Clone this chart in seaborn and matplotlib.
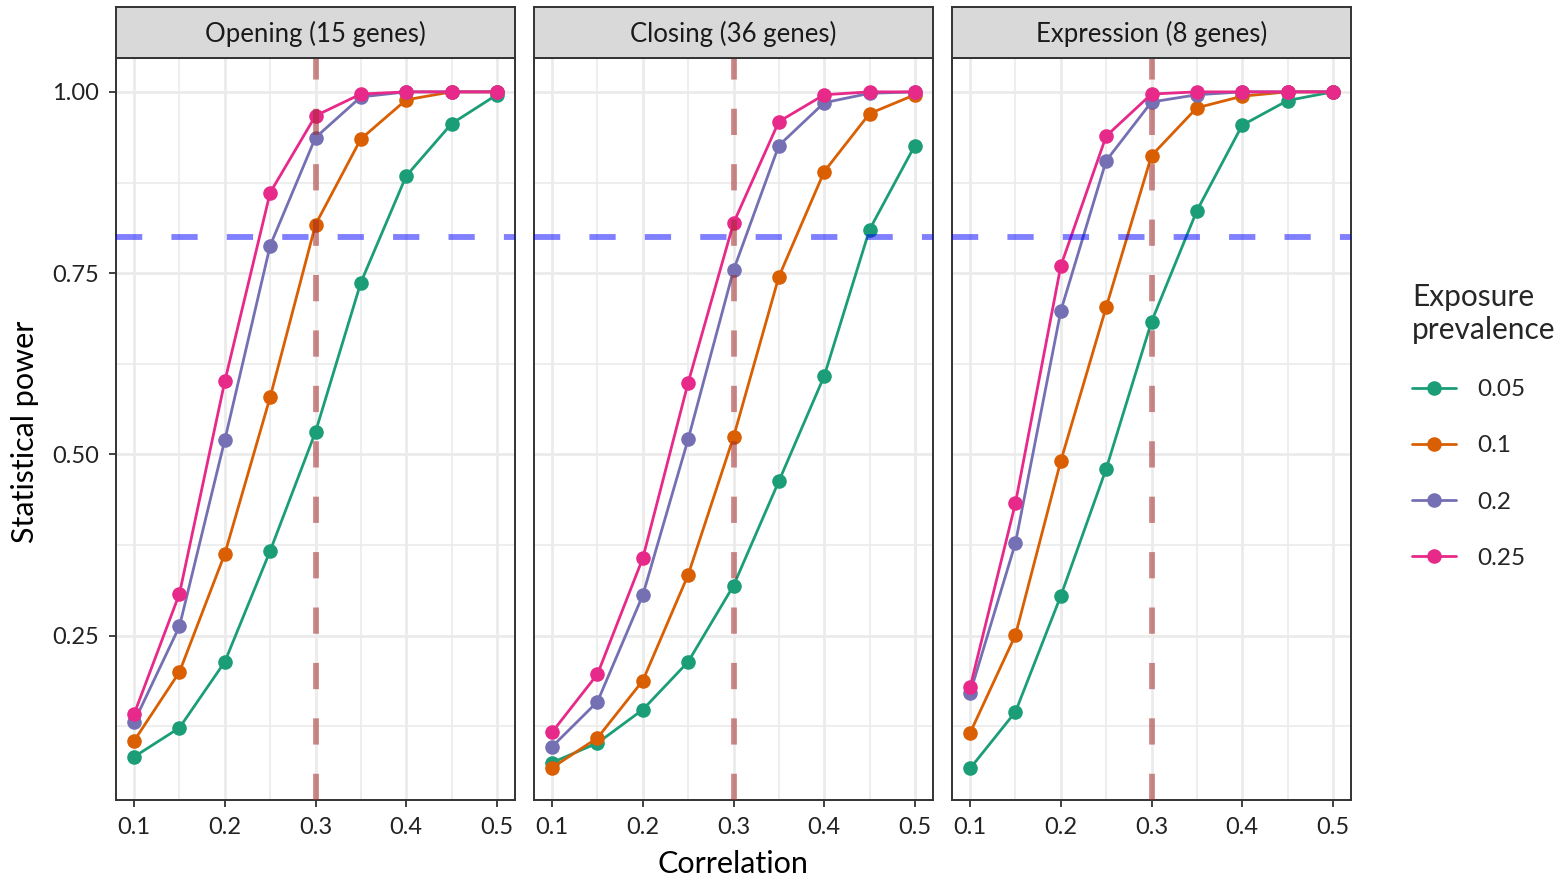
import numpy as np
import pandas as pd
import matplotlib
matplotlib.use("Agg")
import matplotlib.pyplot as plt
import seaborn as sns
from matplotlib.lines import Line2D

# ---------------- data ----------------
correlation = [0.1, 0.15, 0.2, 0.25, 0.3, 0.35, 0.4, 0.45, 0.5]
panels = ["Opening (15 genes)", "Closing (36 genes)", "Expression (8 genes)"]
prevalence_levels = ["0.05", "0.1", "0.2", "0.25"]

opening_005 = [0.083, 0.123, 0.214, 0.367, 0.531, 0.737, 0.884, 0.956, 0.996]
opening_010 = [0.105, 0.200, 0.363, 0.579, 0.817, 0.935, 0.989, 1.000, 1.000]
opening_020 = [0.131, 0.263, 0.520, 0.788, 0.937, 0.993, 1.000, 1.000, 1.000]
opening_025 = [0.142, 0.308, 0.601, 0.861, 0.967, 0.997, 1.000, 1.000, 1.000]

closing_005 = [0.075, 0.102, 0.148, 0.214, 0.319, 0.463, 0.608, 0.810, 0.926]
closing_010 = [0.068, 0.109, 0.188, 0.334, 0.524, 0.745, 0.890, 0.970, 0.996]
closing_020 = [0.097, 0.159, 0.306, 0.521, 0.754, 0.926, 0.985, 0.998, 1.000]
closing_025 = [0.117, 0.197, 0.357, 0.599, 0.819, 0.959, 0.996, 1.000, 1.000]

expression_005 = [0.067, 0.145, 0.305, 0.480, 0.683, 0.836, 0.954, 0.988, 1.000]
expression_010 = [0.116, 0.251, 0.491, 0.703, 0.912, 0.978, 0.994, 1.000, 1.000]
expression_020 = [0.171, 0.378, 0.698, 0.905, 0.986, 0.996, 1.000, 1.000, 1.000]
expression_025 = [0.179, 0.433, 0.760, 0.939, 0.997, 1.000, 1.000, 1.000, 1.000]

power_threshold = 0.8
correlation_threshold = 0.3

series = {
    panels[0]: [opening_005, opening_010, opening_020, opening_025],
    panels[1]: [closing_005, closing_010, closing_020, closing_025],
    panels[2]: [expression_005, expression_010, expression_020, expression_025],
}
rows = []
for p, lst in series.items():
    for lev, vals in zip(prevalence_levels, lst):
        for c, v in zip(correlation, vals):
            rows.append({"panel": p, "prevalence": lev, "correlation": c, "power": v})
df = pd.DataFrame(rows)

# ---------------- style ----------------
sns.set_theme(style="white")
plt.rcParams["font.family"] = ["Lato", "DejaVu Sans"]

colors = ["#1B9E77", "#D95F02", "#7570B3", "#E7298A"]
palette = dict(zip(prevalence_levels, colors))

W, H = 1568, 882
fig = plt.figure(figsize=(W / 100, H / 100), dpi=100)

panel_lefts = [116, 534, 952]
panel_w = 399
panel_top, panel_bot = 58, 800
strip_top = 7

for i, (p, left) in enumerate(zip(panels, panel_lefts)):
    ax = fig.add_axes([left / W, 1 - panel_bot / H, panel_w / W, (panel_bot - panel_top) / H])
    sub = df[df["panel"] == p]
    sns.lineplot(data=sub, x="correlation", y="power", hue="prevalence",
                 hue_order=prevalence_levels, palette=palette, marker="o",
                 markersize=10.5, markeredgewidth=0, linewidth=2.0, legend=False,
                 ax=ax, zorder=3)
    ax.axhline(power_threshold, color="#0000FF", alpha=0.5, lw=4.2,
               ls=(0, (4.5, 5.0)), zorder=4)
    ax.axvline(correlation_threshold, color="#A52A2A", alpha=0.55, lw=4.2,
               ls=(0, (4.5, 5.0)), zorder=4)
    ax.set_xlim(0.08, 0.52)
    ax.set_ylim(0.0234, 1.0467)
    ax.set_xticks([0.1, 0.2, 0.3, 0.4, 0.5])
    ax.set_xticklabels(["0.1", "0.2", "0.3", "0.4", "0.5"])
    ax.set_xticks([0.15, 0.25, 0.35, 0.45], minor=True)
    ax.set_yticks([0.25, 0.5, 0.75, 1.0])
    ax.set_yticks([0.125, 0.375, 0.625, 0.875], minor=True)
    if i == 0:
        ax.set_yticklabels(["0.25", "0.50", "0.75", "1.00"])
    else:
        ax.set_yticklabels([])
    ax.grid(which="major", color="#EBEBEB", lw=2.0, zorder=0)
    ax.grid(which="minor", color="#EBEBEB", lw=1.2, zorder=0)
    ax.set_axisbelow(True)
    ax.tick_params(which="major", direction="out", length=5, width=1.3,
                   color="#333333", labelsize=17, labelcolor="#222222",
                   bottom=True, left=(i == 0), pad=7)
    ax.tick_params(which="minor", length=0)
    for s in ax.spines.values():
        s.set_color("#333333")
        s.set_linewidth(1.4)
    ax.set_xlabel("")
    ax.set_ylabel("")

    sax = fig.add_axes([left / W, 1 - panel_top / H, panel_w / W, (panel_top - strip_top) / H])
    sax.set_facecolor("#D9D9D9")
    sax.set_xticks([])
    sax.set_yticks([])
    for s in sax.spines.values():
        s.set_color("#333333")
        s.set_linewidth(1.4)
    sax.text(0.5, 0.47, p, ha="center", va="center", fontsize=18.5, color="#1A1A1A",
             transform=sax.transAxes)

fig.text(733 / W, 1 - 864 / H, "Correlation", ha="center", va="center", fontsize=22, color="black")
fig.text(25 / W, 1 - 432 / H, "Statistical power", ha="center", va="center",
         rotation=90, fontsize=22, color="black")

handles = [Line2D([0], [0], color=c, lw=2.0, marker="o", markersize=10.5, markeredgewidth=0)
           for c in colors]
leg = fig.legend(handles, prevalence_levels, title="Exposure\nprevalence",
                 loc="center left", bbox_to_anchor=(1390 / W, 1 - 426 / H),
                 frameon=False, alignment="left", fontsize=17.5, title_fontsize=21.5,
                 handlelength=1.8, labelspacing=1.45, handletextpad=0.9)
leg.get_title().set_linespacing(1.2)

fig.savefig("out.png", dpi=100)
